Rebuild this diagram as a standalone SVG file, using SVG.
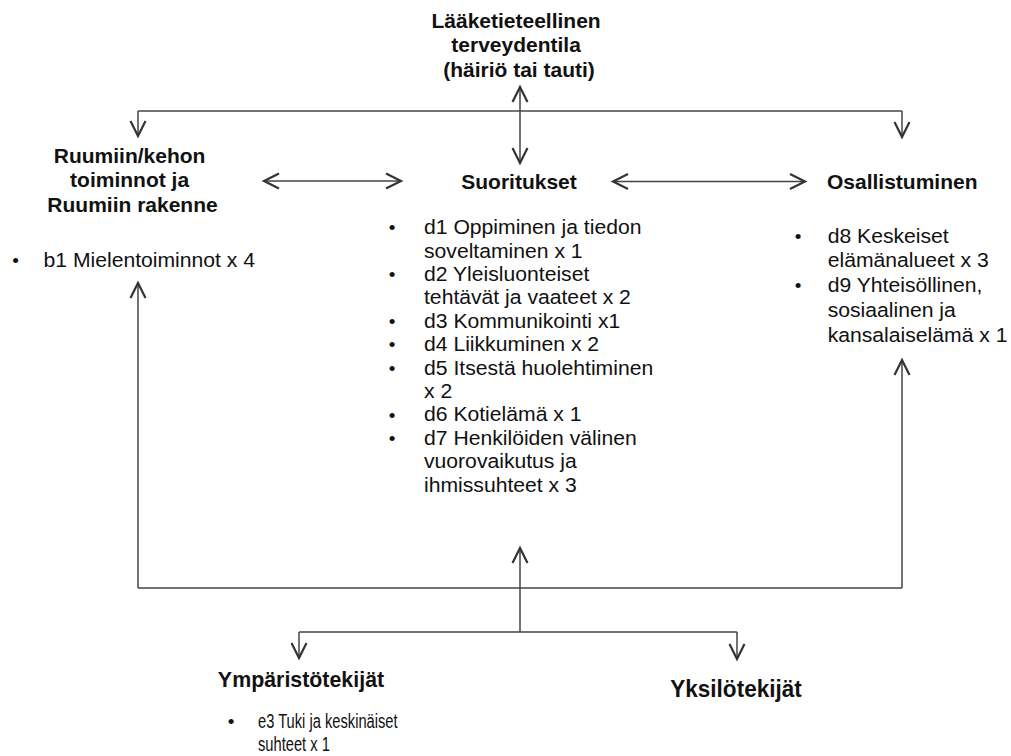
<svg xmlns="http://www.w3.org/2000/svg" width="1011" height="756" viewBox="0 0 1011 756">
  <style>
    text { font-family: "Liberation Sans", Arial, sans-serif; fill: #111; }
    .h { font-size: 20px; font-weight: bold; }
    .hb { font-size: 23px; font-weight: bold; }
    .t { font-size: 19.5px; }
    .e { font-size: 21px; }
    .bul { font-size: 19px; text-anchor: middle; }
    .mid { text-anchor: middle; }
    .ln { fill: none; stroke: #444; stroke-width: 1.5; }
  </style>
  <defs>
    <marker id="arr" markerUnits="userSpaceOnUse" markerWidth="20" markerHeight="20" refX="0" refY="0" viewBox="-11 -6 12 12" orient="auto-start-reverse" overflow="visible">
      <path d="M-9,-4.5 L0,0 L-9,4.5" fill="none" stroke="#333" stroke-width="1.3"/>
    </marker>
  </defs>

  <rect width="1011" height="756" fill="#fff"/>

  <!-- connectors -->
  <g id="connectors">
    <!-- health condition to the three components -->
    <polyline class="ln" points="138,111 902,111"/>
    <line class="ln" x1="138" y1="111" x2="138" y2="136" marker-end="url(#arr)"/>
    <line class="ln" x1="902" y1="111" x2="902" y2="137" marker-end="url(#arr)"/>
    <line class="ln" x1="520" y1="87" x2="520" y2="163" marker-start="url(#arr)" marker-end="url(#arr)"/>
    <!-- component links -->
    <line class="ln" x1="264" y1="181" x2="401" y2="181" marker-start="url(#arr)" marker-end="url(#arr)"/>
    <line class="ln" x1="613" y1="181.5" x2="805" y2="181.5" marker-start="url(#arr)" marker-end="url(#arr)"/>
    <!-- contextual factors loop -->
    <polyline class="ln" points="138,588 902,588"/>
    <line class="ln" x1="138" y1="588" x2="138" y2="283" marker-end="url(#arr)"/>
    <line class="ln" x1="902" y1="588" x2="902" y2="360" marker-end="url(#arr)"/>
    <line class="ln" x1="520" y1="632" x2="520" y2="548" marker-end="url(#arr)"/>
    <polyline class="ln" points="299,632 737,632"/>
    <line class="ln" x1="299" y1="632" x2="299" y2="658" marker-end="url(#arr)"/>
    <line class="ln" x1="737" y1="632" x2="737" y2="659" marker-end="url(#arr)"/>
  </g>

  <!-- health condition -->
  <g id="health">
    <text class="h mid" transform="translate(519,28) scale(1.05,1)">
      <tspan x="0" y="0">Lääketieteellinen</tspan>
      <tspan x="0" y="24.3">terveydentila</tspan>
      <tspan x="0" y="48.6">(häiriö tai tauti)</tspan>
    </text>
  </g>

  <!-- body functions and structures -->
  <g id="body">
    <text class="h mid" transform="translate(132.5,163.3) scale(1.05,1)">
      <tspan x="0" y="0">Ruumiin/kehon</tspan>
      <tspan x="0" y="24.2">toiminnot ja</tspan>
      <tspan x="0" y="48.4">Ruumiin rakenne</tspan>
    </text>
    <text class="bul" x="15.5" y="267">•</text>
    <text class="t" transform="translate(43.5,267) scale(1.085,1)">b1 Mielentoiminnot x 4</text>
  </g>

  <!-- activities -->
  <g id="activities">
    <text class="h mid" transform="translate(519,189) scale(1.05,1)">Suoritukset</text>
    <g class="bullets">
      <text class="bul" x="392" y="234.3">•</text>
      <text class="bul" x="392" y="281.1">•</text>
      <text class="bul" x="392" y="327.9">•</text>
      <text class="bul" x="392" y="351.3">•</text>
      <text class="bul" x="392" y="374.7">•</text>
      <text class="bul" x="392" y="421.5">•</text>
      <text class="bul" x="392" y="444.9">•</text>
    </g>
    <text class="t" transform="translate(424,234.3) scale(1.085,1)">
      <tspan x="0" y="0">d1 Oppiminen ja tiedon</tspan>
      <tspan x="0" y="23.4">soveltaminen x 1</tspan>
      <tspan x="0" y="46.8">d2 Yleisluonteiset</tspan>
      <tspan x="0" y="70.2">tehtävät  ja vaateet x 2</tspan>
      <tspan x="0" y="93.6">d3 Kommunikointi  x1</tspan>
      <tspan x="0" y="117">d4 Liikkuminen x 2</tspan>
      <tspan x="0" y="140.4">d5 Itsestä huolehtiminen</tspan>
      <tspan x="0" y="163.8">x 2</tspan>
      <tspan x="0" y="187.2">d6 Kotielämä x 1</tspan>
      <tspan x="0" y="210.6">d7 Henkilöiden  välinen</tspan>
      <tspan x="0" y="234">vuorovaikutus  ja</tspan>
      <tspan x="0" y="257.4">ihmissuhteet x 3</tspan>
    </text>
  </g>

  <!-- participation -->
  <g id="participation">
    <text class="h" transform="translate(827,188.5) scale(1.05,1)">Osallistuminen</text>
    <text class="bul" x="798" y="242.7">•</text>
    <text class="bul" x="798" y="292.3">•</text>
    <text class="t" transform="translate(827.7,242.7) scale(1.085,1)">
      <tspan x="0" y="0">d8 Keskeiset</tspan>
      <tspan x="0" y="24.8">elämänalueet x 3</tspan>
      <tspan x="0" y="49.6">d9 Yhteisöllinen,</tspan>
      <tspan x="0" y="74.4">sosiaalinen ja</tspan>
      <tspan x="0" y="99.2">kansalaiselämä  x 1</tspan>
    </text>
  </g>

  <!-- environmental factors -->
  <g id="environment">
    <text class="hb mid" transform="translate(301,687) scale(0.93,1)">Ympäristötekijät</text>
    <text class="bul" x="231" y="728">•</text>
    <text class="e" transform="translate(258,728) scale(0.7,1)">
      <tspan x="0" y="0">e3 Tuki ja keskinäiset</tspan>
      <tspan x="0" y="23">suhteet x 1</tspan>
    </text>
  </g>

  <!-- personal factors -->
  <g id="personal">
    <text class="hb mid" transform="translate(736,697) scale(0.98,1)">Yksilötekijät</text>
  </g>
</svg>
